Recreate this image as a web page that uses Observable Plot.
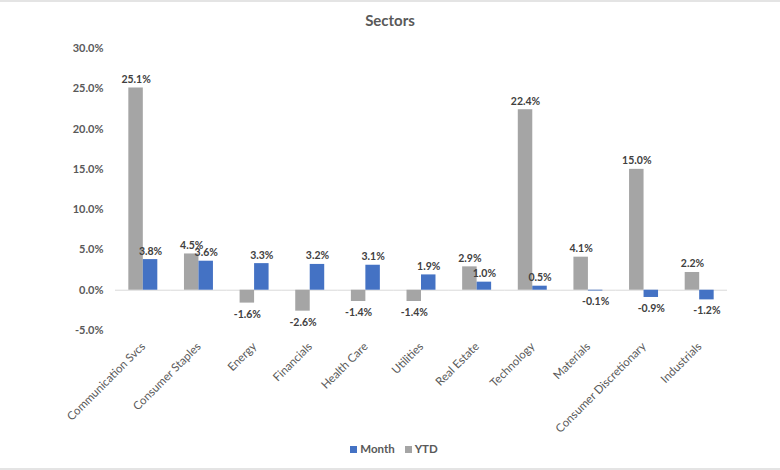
<!DOCTYPE html>
<html>
<head>
<meta charset="utf-8">
<script src="https://cdn.jsdelivr.net/npm/d3@7"></script>
<script src="https://cdn.jsdelivr.net/npm/@observablehq/plot@0.6"></script>
<style>
  body { margin: 0; background: #fff; font-family: Lato, "Open Sans", sans-serif; }
  #wrap { position: relative; width: 780px; height: 470px; box-sizing: border-box; border-top: 2px solid #e4e4e4; border-bottom: 2px solid #e4e4e4; overflow: hidden; }
  #title { position: absolute; top: 8px; left: 0; width: 780px; text-align: center; font-size: 15px; line-height: 20px; font-weight: bold; color: #595959; }
  #chart { position: absolute; top: 28px; left: 0; }
  #legend { position: absolute; top: 439px; left: 4px; width: 780px; text-align: center; font-size: 11.5px; line-height: 16px; color: #595959; font-weight: bold; }
  #legend span.sw { display: inline-block; width: 7px; height: 7px; margin-right: 3px; vertical-align: 0px; }
  #legend span.item { margin: 0 5px; }
</style>
</head>
<body>
<div id="wrap">
  <div id="title">Sectors</div>
  <div id="chart"></div>
  <div id="legend"></div>
</div>
<script>
const categories = ["Communication Svcs", "Consumer Staples", "Energy", "Financials", "Health Care", "Utilities", "Real Estate", "Technology", "Materials", "Consumer Discretionary", "Industrials"];
const ytd = [25.1, 4.5, -1.6, -2.6, -1.4, -1.4, 2.9, 22.4, 4.1, 15.0, 2.2];
const month = [3.8, 3.6, 3.3, 3.2, 3.1, 1.9, 1.0, 0.5, -0.1, -0.9, -1.2];
const series = ["YTD", "Month"];
const colors = ["#A5A5A5", "#4472C4"];
const yTicks = [-5, 0, 5, 10, 15, 20, 25, 30];

const data = categories.flatMap((c, i) => [
  {cat: c, series: "YTD", value: ytd[i]},
  {cat: c, series: "Month", value: month[i]}
]);
const fmt = d => d.toFixed(1) + "%";

const chart = Plot.plot({
  width: 780,
  height: 410,
  marginLeft: 115,
  marginRight: 53,
  marginTop: 18,
  marginBottom: 110,
  style: {fontFamily: "Lato, 'Open Sans', sans-serif", fontSize: "11px", color: "#595959", background: "transparent"},
  fx: {domain: categories, paddingInner: 0, paddingOuter: 0, round: false, label: null},
  x: {domain: series, paddingInner: 0, paddingOuter: 0.92, round: false, axis: null},
  y: {domain: [-5, 30], label: null},
  color: {domain: series, range: colors},
  marks: [
    Plot.axisY({ticks: yTicks, tickFormat: fmt, tickSize: 0, tickPadding: 12, label: null, fontWeight: "bold", fill: "#595959"}),
    Plot.axisFx({anchor: "bottom", tickRotate: -45, tickSize: 0, tickPadding: 14, label: null, fill: "#595959", fontSize: 11.5}),
    Plot.ruleY([0], {stroke: "#d9d9d9", strokeWidth: 1}),
    Plot.barY(data, {fx: "cat", x: "series", y: "value", fill: "series"}),
    Plot.text(data.filter(d => d.value >= 0), {fx: "cat", x: "series", y: "value", text: d => fmt(d.value), lineAnchor: "bottom", dy: -5, fontWeight: "bold", fill: "#404040", fontSize: 10.5}),
    Plot.text(data.filter(d => d.value < 0), {fx: "cat", x: "series", y: "value", text: d => fmt(d.value), lineAnchor: "top", dy: 7, fontWeight: "bold", fill: "#404040", fontSize: 10.5})
  ]
});
document.getElementById("chart").appendChild(chart);

const legend = document.getElementById("legend");
[["Month", colors[1]], ["YTD", colors[0]]].forEach(([name, col]) => {
  const item = document.createElement("span");
  item.className = "item";
  const sw = document.createElement("span");
  sw.className = "sw";
  sw.style.background = col;
  item.appendChild(sw);
  item.appendChild(document.createTextNode(name));
  legend.appendChild(item);
});
</script>
</body>
</html>
